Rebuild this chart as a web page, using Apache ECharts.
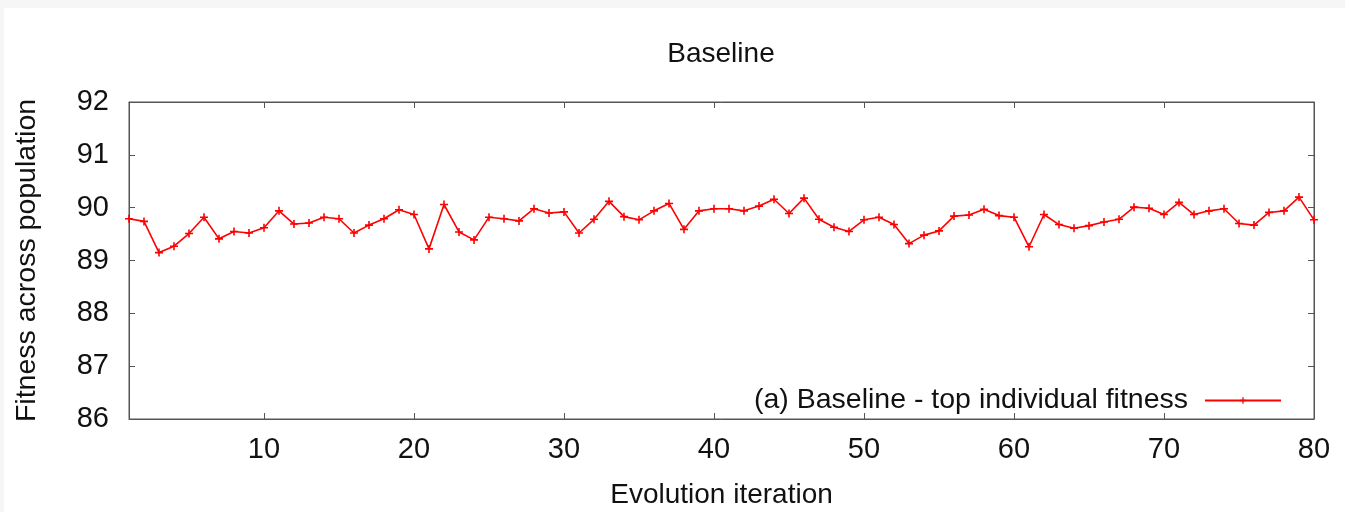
<!DOCTYPE html>
<html>
<head>
<meta charset="utf-8">
<title>Baseline</title>
<script src="https://cdn.jsdelivr.net/npm/echarts@6/dist/echarts.min.js"></script>
<style>
  html, body { margin: 0; padding: 0; background: #f6f6f6; }
  #chart { position: absolute; left: 4px; top: 8px; width: 1341px; height: 504px; background: #fff; }
</style>
</head>
<body>
<div id="chart"></div>
<script>
// evolution iterations 1..80
const iterations = [
  1, 2, 3, 4, 5, 6, 7, 8, 9, 10,
  11, 12, 13, 14, 15, 16, 17, 18, 19, 20,
  21, 22, 23, 24, 25, 26, 27, 28, 29, 30,
  31, 32, 33, 34, 35, 36, 37, 38, 39, 40,
  41, 42, 43, 44, 45, 46, 47, 48, 49, 50,
  51, 52, 53, 54, 55, 56, 57, 58, 59, 60,
  61, 62, 63, 64, 65, 66, 67, 68, 69, 70,
  71, 72, 73, 74, 75, 76, 77, 78, 79, 80
];

// top individual fitness per iteration
const topFitness = [
  89.79, 89.74, 89.15, 89.27, 89.51, 89.82, 89.41, 89.55, 89.52, 89.62,
  89.94, 89.69, 89.71, 89.82, 89.79, 89.52, 89.67, 89.79, 89.96, 89.87,
  89.22, 90.06, 89.54, 89.39, 89.82, 89.79, 89.75, 89.98, 89.90, 89.92,
  89.52, 89.78, 90.12, 89.83, 89.77, 89.94, 90.08, 89.59, 89.94, 89.98,
  89.98, 89.94, 90.03, 90.16, 89.89, 90.18, 89.78, 89.63, 89.55, 89.77,
  89.82, 89.68, 89.32, 89.48, 89.56, 89.84, 89.86, 89.97, 89.85, 89.82,
  89.26, 89.87, 89.68, 89.61, 89.66, 89.73, 89.78, 90.01, 89.99, 89.87,
  90.10, 89.87, 89.94, 89.98, 89.70, 89.67, 89.91, 89.94, 90.20, 89.77
];

const xTicks = [10, 20, 30, 40, 50, 60, 70, 80];
const seriesName = '(a) Baseline - top individual fitness';

const FONT = '"Liberation Sans", Arial, sans-serif';
const AXIS_COLOR = '#555';
const TEXT_COLOR = '#111';
const PLUS = 'path://M4,0H6V4H10V6H6V10H4V6H0V4H4Z';

const chart = echarts.init(document.getElementById('chart'));

const tickStyle = { show: true, inside: true, length: 6, lineStyle: { color: AXIS_COLOR, width: 1 } };

chart.setOption({
  animation: false,
  textStyle: { fontFamily: FONT },
  title: {
    text: 'Baseline',
    left: 712,
    top: 27,
    textAlign: 'center',
    textStyle: { fontFamily: FONT, fontSize: 28, fontWeight: 'normal', color: TEXT_COLOR }
  },
  grid: {
    left: 125, right: 31, top: 94, bottom: 93,
    outerBoundsMode: 'none',
    show: true, borderColor: AXIS_COLOR, borderWidth: 1, backgroundColor: 'transparent'
  },
  legend: {
    right: 58,
    top: 373,
    align: 'right',
    itemWidth: 76,
    itemHeight: 8,
    itemGap: 0,
    textStyle: { fontFamily: FONT, fontSize: 28.5, color: TEXT_COLOR, padding: [0, 12, 0, 0] },
    data: [seriesName]
  },
  xAxis: [{
    type: 'value',
    min: 1,
    max: 80,
    name: 'Evolution iteration',
    nameLocation: 'middle',
    nameGap: 62,
    nameTextStyle: { fontFamily: FONT, fontSize: 28, color: TEXT_COLOR },
    axisLine: { show: true, lineStyle: { color: AXIS_COLOR } },
    axisTick: Object.assign({ customValues: xTicks }, tickStyle),
    axisLabel: { customValues: xTicks, margin: 16, fontFamily: FONT, fontSize: 29, color: TEXT_COLOR },
    splitLine: { show: false }
  }, {
    type: 'value',
    position: 'top',
    min: 1,
    max: 80,
    axisLine: { show: true, lineStyle: { color: AXIS_COLOR } },
    axisTick: Object.assign({ customValues: xTicks }, tickStyle),
    axisLabel: { show: false },
    splitLine: { show: false }
  }],
  yAxis: [{
    type: 'value',
    min: 86,
    max: 92,
    interval: 1,
    name: 'Fitness across population',
    nameLocation: 'middle',
    nameGap: 87,
    nameTextStyle: { fontFamily: FONT, fontSize: 28.5, color: TEXT_COLOR },
    axisLine: { show: true, lineStyle: { color: AXIS_COLOR } },
    axisTick: tickStyle,
    axisLabel: { margin: 20, fontFamily: FONT, fontSize: 29, color: TEXT_COLOR },
    splitLine: { show: false }
  }, {
    type: 'value',
    position: 'right',
    min: 86,
    max: 92,
    interval: 1,
    axisLine: { show: true, lineStyle: { color: AXIS_COLOR } },
    axisTick: tickStyle,
    axisLabel: { show: false },
    splitLine: { show: false }
  }],
  series: [{
    name: seriesName,
    type: 'line',
    xAxisIndex: 0,
    yAxisIndex: 0,
    data: iterations.map((x, i) => [x, topFitness[i]]),
    symbol: PLUS,
    symbolSize: 8,
    showSymbol: true,
    color: '#ff0000',
    lineStyle: { color: '#ff0000', width: 1.6 },
    itemStyle: { color: '#ff0000' },
    clip: false
  }]
});
</script>
</body>
</html>
